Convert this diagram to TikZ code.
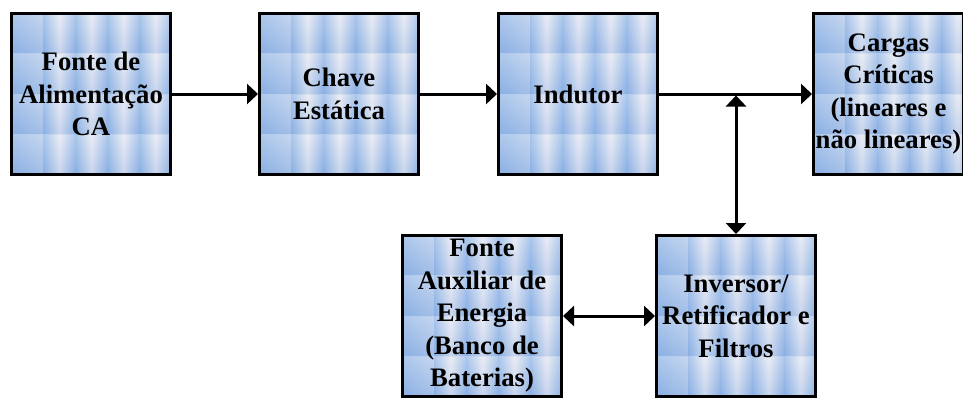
\documentclass[tikz,border=0pt]{standalone}
\usepackage{fontspec}
\setmainfont{Liberation Serif}
\usepackage{xcolor}
\usetikzlibrary{arrows.meta, positioning, calc}
\definecolor{tileD}{RGB}{138,176,228}
\definecolor{tileL}{RGB}{228,230,240}
\tikzset{
  blk/.style   ={rectangle, draw=black, line width=3pt, fill=tileD,
                 minimum width=159pt, minimum height=161pt, inner sep=1pt,
                 align=center, text=black,
                 font=\fontsize{26.7}{32.5}\selectfont\bfseries,
                 path picture={
                   \foreach \c in {0,...,4}{
                     \shade[left color=tileD, right color=tileD, middle color=tileL]
                       ($(path picture bounding box.north west)+(\c*32pt,0)$)
                       rectangle ++(32pt,-170pt);
                   }
                   \foreach \r in {0,...,3}{
                     \shade[top color=white, bottom color=tileD, fill opacity=0.3]
                       ($(path picture bounding box.north west)+(0,-\r*40.25pt)$)
                       rectangle ++(170pt,-40.25pt);
                   }
                 }},
  arrow/.style ={-{Triangle[length=11pt, width=20pt]}, line width=3pt},
  darrow/.style={{Triangle[length=11pt, width=20pt]}-{Triangle[length=11pt, width=20pt]},
                 line width=3pt}
}
\begin{document}
\begin{tikzpicture}[x=1pt, y=-1pt]
\path[use as bounding box, clip] (0,0) rectangle (963,397);

%  Main path 
\node[blk] (fonte) at (91,94) {Fonte de\\Alimentação\\CA};
\node[blk, right=86pt of fonte] (chave) {Chave\\Estática};
\node[blk, right=77pt of chave] (indutor) {Indutor};
\node[blk, right=153pt of indutor, minimum width=150pt] (cargas)
      {Cargas\\Críticas\\(lineares e\\não lineares)};

%  Storage path 
\node[blk, below=58pt of indutor.south east, anchor=north west, xshift=-4pt]
      (inversor) {Inversor/\\Retificador e\\Filtros};
\node[blk, left=92pt of inversor] (bateria)
      {Fonte\\Auxiliar de\\Energia\\(Banco de\\Baterias)};

%  Connections 
\coordinate (jn) at (inversor.north |- indutor.east);
\draw[arrow] (fonte) -- (chave);
\draw[arrow] (chave) -- (indutor);
\draw[arrow] (indutor) -- (cargas);
\draw[darrow, shorten >=1.5pt] (inversor.north) -- (jn);
\draw[darrow] (bateria) -- (inversor);
\end{tikzpicture}
\end{document}
